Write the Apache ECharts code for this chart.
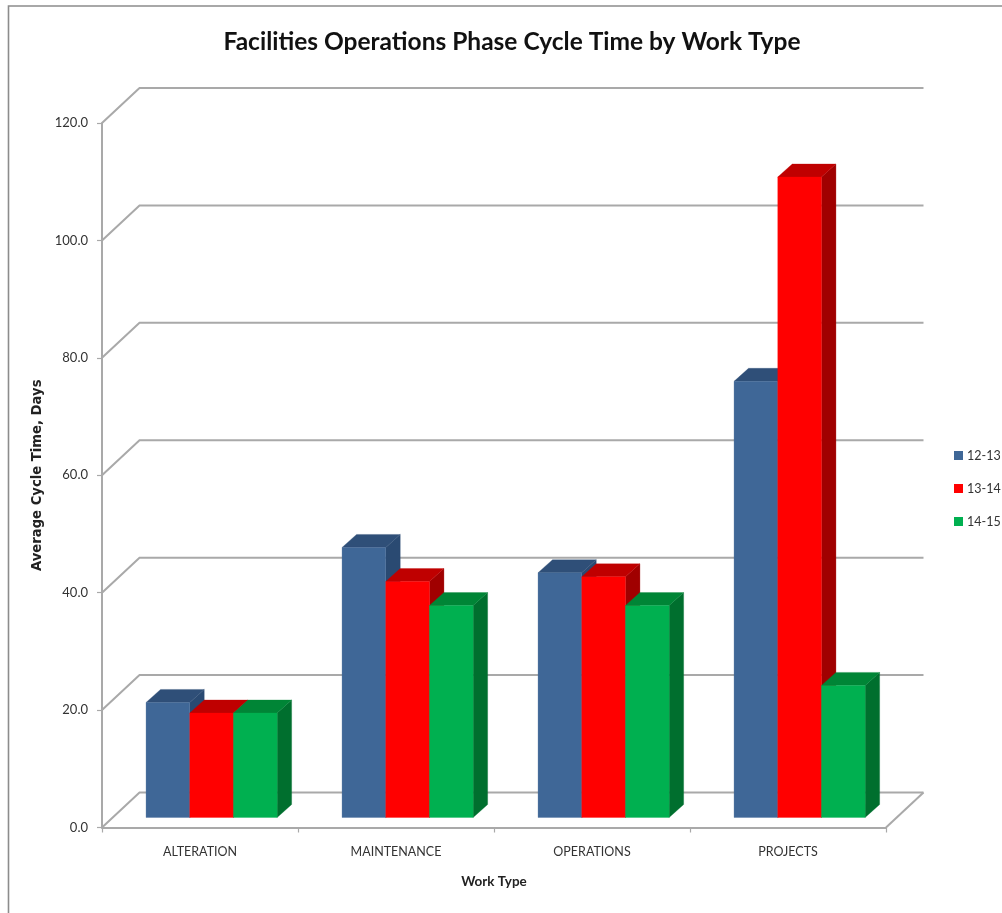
<!DOCTYPE html>
<html><head><meta charset="utf-8">
<style>html,body{margin:0;padding:0;background:#fff}#c{width:1002px;height:913px;filter:blur(0.45px)}</style>
<script src="https://cdn.jsdelivr.net/npm/echarts@6/dist/echarts.min.js"></script>
</head><body><div id="c"></div>
<script>
const categories = ['ALTERATION','MAINTENANCE','OPERATIONS','PROJECTS'];
const seriesNames = ['12-13','13-14','14-15'];
const values1213 = [19.6,46.0,41.7,74.3];
const values1314 = [17.8,40.2,41.0,109.1];
const values1415 = [17.8,36.1,36.1,22.5];
const yTicks = [0,20,40,60,80,100,120];
const titleText = 'Facilities Operations Phase Cycle Time by Work Type';
const yName = 'Average Cycle Time, Days';
const xName = 'Work Type';

const WALL_DX = 37.5, WALL_DY = 35;
const BASE_DX = 11.6, BASE_DY = 10;
const BAR_DX = 14.5, BAR_DY = 13;
const BAR_W = 43.7;
const faces = [
  {front:'#3f6797', top:'#2f4f78', side:'#2a4a72'},
  {front:'#ff0000', top:'#bf0000', side:'#a00000'},
  {front:'#00b050', top:'#008536', side:'#006f2e'}
];
const FONT = 'Lato';
const GRID_COLOR = '#a9a9a9';

function barRender(si){
  return function(params, api){
    const c = api.coord([api.value(0), api.value(1)]);
    const z = api.coord([api.value(0), 0]);
    const left = c[0] + BASE_DX + (si - 1.5) * BAR_W;
    const right = left + BAR_W;
    const top = c[1] - BASE_DY, bot = z[1] - BASE_DY;
    const f = faces[si];
    const poly = (pts, fill) => ({type:'polygon', shape:{points:pts}, style:{fill:fill, stroke:fill, lineWidth:0.3}});
    return {type:'group', children:[
      poly([[right,top],[right+BAR_DX,top-BAR_DY],[right+BAR_DX,bot-BAR_DY],[right,bot]], f.side),
      poly([[left,top],[left+BAR_DX,top-BAR_DY],[right+BAR_DX,top-BAR_DY],[right,top]], f.top),
      poly([[left,top],[right,top],[right,bot],[left,bot]], f.front)
    ]};
  };
}
function wallRender(params, api){
  const g = params.coordSys;
  const y = api.coord([0, api.value(0)])[1];
  const x0 = g.x, x1 = g.x + g.width;
  const st = {stroke:GRID_COLOR, lineWidth:2, fill:'none'};
  const kids = [{type:'polyline', shape:{points:[[x0,y],[x0+WALL_DX,y-WALL_DY],[x1+WALL_DX,y-WALL_DY]]}, style:st}];
  if (api.value(0) === 0) {
    kids.push({type:'polyline', shape:{points:[[x1,y],[x1+WALL_DX,y-WALL_DY]]}, style:st});
  }
  return {type:'group', children:kids};
}
const chart = echarts.init(document.getElementById('c'), null, {renderer:'canvas'});
const lists = [values1213, values1314, values1415];
chart.setOption({
  animation:false,
  backgroundColor:'#ffffff',
  title:{text:titleText, left:507, top:25, textAlign:'center',
    textStyle:{fontFamily:FONT, fontWeight:'bold', fontSize:24.5, color:'#111'}},
  legend:{orient:'vertical', left:949, top:444, itemWidth:9, itemHeight:9, itemGap:20, icon:'rect',
    textStyle:{fontFamily:FONT, fontSize:12.5, color:'#333', padding:[0,0,0,-1]},
    data:seriesNames.map((n,i)=>({name:n, itemStyle:{color:faces[i].front}}))},
  grid:{left:102, right:116, top:123, bottom:85.5},
  xAxis:{type:'category', data:categories, boundaryGap:true,
    axisLine:{lineStyle:{color:GRID_COLOR,width:2}},
    axisTick:{show:true, alignWithLabel:false, length:5, lineStyle:{color:GRID_COLOR,width:1.2}},
    axisLabel:{fontFamily:FONT, fontSize:12.5, color:'#333', margin:18},
    name:xName, nameLocation:'middle', nameGap:47,
    nameTextStyle:{fontFamily:FONT, fontWeight:'bold', fontSize:13.5, color:'#222'}},
  yAxis:{type:'value', min:0, max:120, interval:20,
    axisLine:{show:true, lineStyle:{color:GRID_COLOR,width:2}},
    axisTick:{show:true, length:5, lineStyle:{color:GRID_COLOR,width:1.2}},
    splitLine:{show:false},
    axisLabel:{fontFamily:FONT, fontSize:13, color:'#333', margin:14, formatter:v=>v.toFixed(1)},
    name:yName, nameLocation:'middle', nameGap:47,
    nameTextStyle:{fontFamily:'DejaVu Sans', fontWeight:'bold', fontSize:13.2, color:'#222'}},
  graphic:[{type:'polyline', silent:true, z:-1, shape:{points:[[8.5,913],[8.5,6],[1002,6]]},
    style:{stroke:'#8c8c8c', lineWidth:1.6, fill:'none'}}],
  series:[
    {type:'custom', name:'walls', silent:true, z:1, clip:false, renderItem:wallRender,
      data:yTicks.map(v=>[v]), encode:{y:0}, legendHoverLink:false},
    ...seriesNames.map((n,i)=>({type:'custom', name:n, z:2+i, clip:false, renderItem:barRender(i),
      itemStyle:{color:faces[i].front},
      data:lists[i].map((v,k)=>[k,v]), encode:{x:0,y:1}}))
  ]
});
</script></body></html>
